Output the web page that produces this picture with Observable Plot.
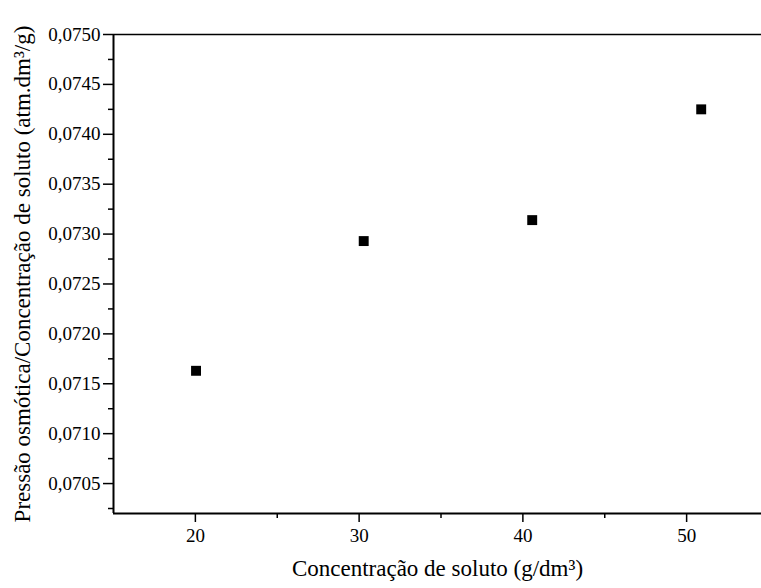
<!DOCTYPE html>
<html><head><meta charset="utf-8">
<script src="https://cdn.jsdelivr.net/npm/d3@7"></script>
<script src="https://cdn.jsdelivr.net/npm/@observablehq/plot@0.6"></script>
<style>body{margin:0;background:#fff} svg text{font-family:"Liberation Serif","Times New Roman",serif !important;}</style>
</head><body><div id="chart"></div>
<script>
const concentracao = [20.04, 30.28, 40.57, 50.89];
const razao = [0.07163, 0.07293, 0.07314, 0.07425];
const xMajorTicks = [20, 30, 40, 50];
const xMinorTicks = [25, 35, 45];
const yMajorTicks = [0.0705, 0.0710, 0.0715, 0.0720, 0.0725, 0.0730, 0.0735, 0.0740, 0.0745, 0.0750];
const yMinorTicks = [0.07025, 0.07075, 0.07125, 0.07175, 0.07225, 0.07275, 0.07325, 0.07375, 0.07425, 0.07475];
const xLabel = "Concentração de soluto (g/dm³)";
const yLabel = "Pressão osmótica/Concentração de soluto (atm.dm³/g)";
const xDomain = [15, 55];
const yDomain = [0.0702, 0.0750];

const data = concentracao.map((c, i) => ({c, r: razao[i]}));
const fmtY = d => d3.format(".4f")(d).replace(".", ",");
const serif = "Liberation Serif";

const chart = Plot.plot({
  width: 761,
  height: 588,
  marginLeft: 113,
  marginRight: 0,
  marginTop: 34,
  marginBottom: 75,
  style: {fontFamily: serif, fontSize: "19px", color: "#000", background: "#fff"},
  x: {domain: xDomain, range: [113, 768]},
  y: {domain: yDomain, range: [513, 34]},
  marks: [
    Plot.ruleY([yDomain[1]], {stroke: "#000", strokeWidth: 1.6}),
    Plot.axisX(xMajorTicks, {tickSize: 9, tickPadding: 6, fontSize: 19, fontFamily: serif, fill: "#000", strokeWidth: 1.5, label: null, tickFormat: d => String(d)}),
    Plot.axisX(xMinorTicks, {tickSize: 5, strokeWidth: 1.5, label: null, tickFormat: () => ""}),
    Plot.axisY(yMajorTicks, {tickSize: 10, tickPadding: 3, fontSize: 19, fontFamily: serif, fill: "#000", strokeWidth: 1.5, label: null, tickFormat: fmtY}),
    Plot.axisY(yMinorTicks, {tickSize: 5, strokeWidth: 1.5, label: null, tickFormat: () => ""}),
    Plot.ruleX([xDomain[0]], {stroke: "#000", strokeWidth: 2}),
    Plot.ruleY([yDomain[0]], {stroke: "#000", strokeWidth: 2}),
    Plot.dot(data, {x: "c", y: "r", symbol: "square", r: 5.6, fill: "#000", stroke: "none"}),
    Plot.text([xLabel], {frameAnchor: "bottom", dy: 62, fontSize: 23, fontFamily: serif, fill: "#000"}),
    Plot.text([yLabel], {frameAnchor: "left", textAnchor: "middle", dx: -91, rotate: -90, fontSize: 23, fontFamily: serif, fill: "#000"})
  ]
});
d3.select(chart).selectAll("text").style("font-family", "'Liberation Serif', serif");
document.getElementById("chart").appendChild(chart);
</script>
</body></html>
